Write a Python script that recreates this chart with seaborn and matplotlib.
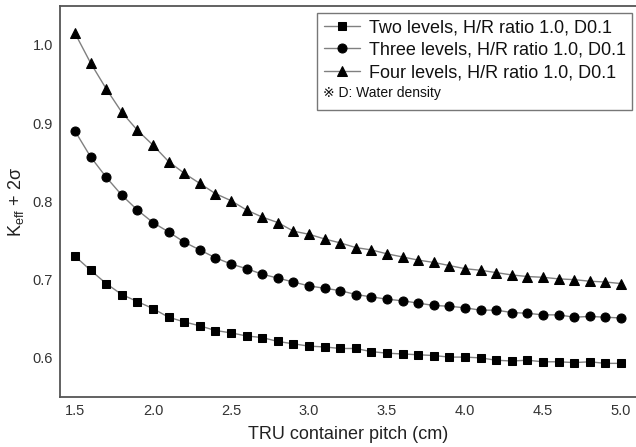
import numpy as np
import pandas as pd
import matplotlib
matplotlib.use("Agg")
import matplotlib.pyplot as plt
from matplotlib.lines import Line2D
import seaborn as sns

# Datos (pitch 1.5 -> 5.0 cm, paso 0.1)
pitch = np.round(np.arange(1.5, 5.0001, 0.1), 1)

dos_niveles = [0.730, 0.712, 0.695, 0.681, 0.672, 0.663, 0.652, 0.646, 0.641, 0.635,
               0.632, 0.628, 0.626, 0.621, 0.618, 0.615, 0.614, 0.612, 0.612, 0.608,
               0.606, 0.605, 0.604, 0.603, 0.601, 0.601, 0.600, 0.597, 0.596, 0.597,
               0.595, 0.595, 0.594, 0.595, 0.593, 0.593]
tres_niveles = [0.890, 0.857, 0.831, 0.808, 0.789, 0.773, 0.761, 0.748, 0.738, 0.728,
                0.720, 0.714, 0.707, 0.702, 0.697, 0.692, 0.689, 0.686, 0.681, 0.678,
                0.675, 0.673, 0.670, 0.667, 0.666, 0.664, 0.661, 0.661, 0.658, 0.657,
                0.655, 0.655, 0.652, 0.653, 0.652, 0.651]
cuatro_niveles = [1.015, 0.977, 0.944, 0.914, 0.891, 0.872, 0.851, 0.836, 0.823, 0.810,
                  0.801, 0.789, 0.780, 0.773, 0.762, 0.758, 0.752, 0.747, 0.741, 0.738,
                  0.733, 0.729, 0.725, 0.722, 0.718, 0.714, 0.712, 0.709, 0.706, 0.704,
                  0.703, 0.701, 0.700, 0.698, 0.697, 0.695]

etiquetas = ["Two levels, H/R ratio 1.0, D0.1",
             "Three levels, H/R ratio 1.0, D0.1",
             "Four levels, H/R ratio 1.0, D0.1"]
marcadores = ["s", "o", "^"]
nota = "※ D: Water density"

sns.set_style("white")
plt.rcParams["font.family"] = ["Liberation Sans", "DejaVu Sans", "Noto Sans CJK JP"]
plt.rcParams["mathtext.fontset"] = "custom"
plt.rcParams["mathtext.rm"] = "Liberation Sans"
plt.rcParams["mathtext.it"] = "Liberation Sans:italic"

fig = plt.figure(figsize=(6.36, 4.47), dpi=100)
ax = fig.add_axes([60 / 636, 50 / 447, 1 - 60 / 636, 391 / 447])

for serie, etiqueta, marcador in zip([dos_niveles, tres_niveles, cuatro_niveles], etiquetas, marcadores):
    df = pd.DataFrame({"pitch": pitch, "keff": serie})
    sns.lineplot(data=df, x="pitch", y="keff", ax=ax, color="#808080", linewidth=1.0,
                 marker=marcador, markersize=6.5 if marcador != "s" else 6,
                 markerfacecolor="black", markeredgecolor="black", label=etiqueta)

ax.set_xlim(1.404, 5.096)
ax.set_ylim(0.550, 1.0498)
ax.set_xticks(np.arange(1.5, 5.01, 0.5))
ax.set_yticks([0.6, 0.7, 0.8, 0.9, 1.0])
ax.xaxis.set_major_formatter(matplotlib.ticker.FormatStrFormatter("%.1f"))
ax.yaxis.set_major_formatter(matplotlib.ticker.FormatStrFormatter("%.1f"))
ax.tick_params(axis="both", length=0, labelsize=10.5, labelcolor="#333333", pad=5)

for lado in ["left", "bottom", "top"]:
    ax.spines[lado].set_color("#555555")
    ax.spines[lado].set_linewidth(1.3)
ax.spines["right"].set_visible(False)

ax.set_xlabel("TRU container pitch (cm)", fontsize=13, color="#222222", labelpad=6)
ax.set_ylabel(r"K$_{\mathrm{eff}}$ + 2σ", fontsize=13, color="#222222", labelpad=5)

handles, labels = ax.get_legend_handles_labels()
handles.append(Line2D([], [], linestyle="none", marker=None))
labels.append(" ")
leg = ax.legend(handles, labels, loc="upper right", bbox_to_anchor=(632 / 636, 1 - 13 / 447),
                bbox_transform=fig.transFigure, borderaxespad=0, fontsize=13,
                frameon=True, fancybox=False, edgecolor="#777777", framealpha=1,
                handlelength=2.0, handletextpad=0.5, labelspacing=0.3, borderpad=0.35)
leg.get_frame().set_linewidth(1.0)
for t in leg.get_texts():
    t.set_color("#111111")

fig.text(323 / 636, 1 - 93 / 447, nota, fontsize=10, va="center", ha="left", color="#111111")

fig.savefig("out.png", dpi=100)
